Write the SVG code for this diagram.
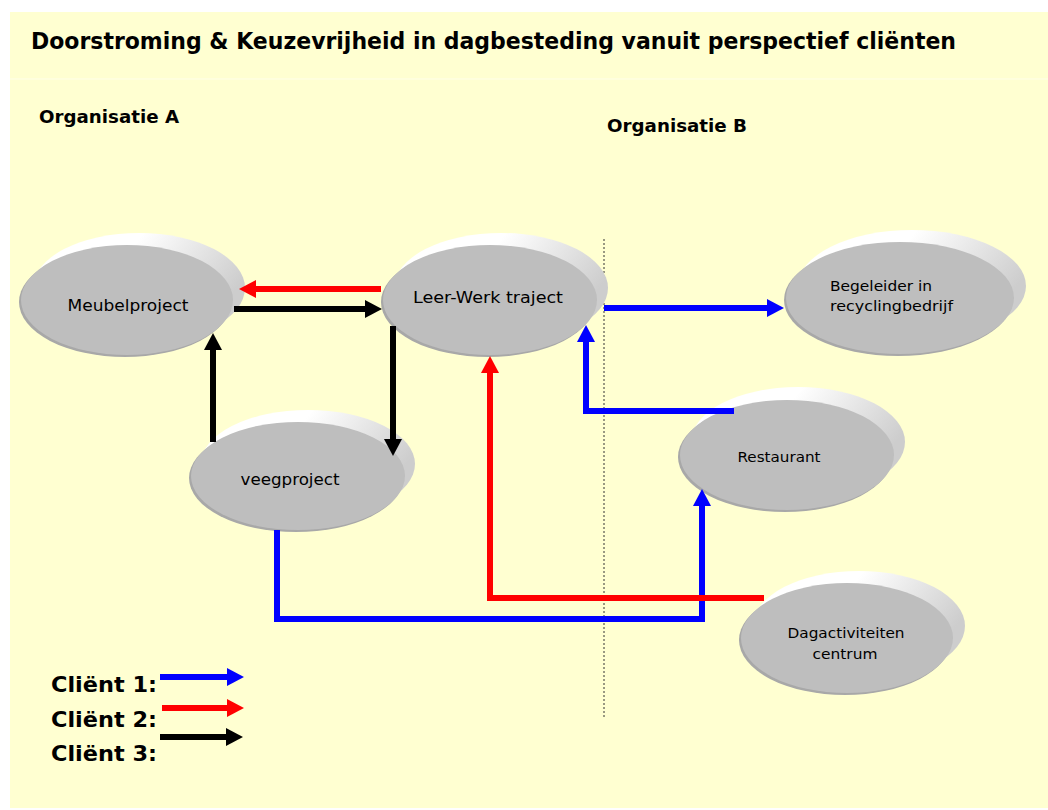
<svg xmlns="http://www.w3.org/2000/svg" width="1048" height="810" viewBox="0 0 1048 810">
<style>
.t{font-family:"DejaVu Sans","Liberation Sans",sans-serif;fill:#000}
.b{font-weight:bold}
.back{fill:url(#hl)}
.rim{fill:#a8a8a8}
.main{fill:#bebebe}
.c{fill:none;stroke-width:6;stroke-linejoin:miter;stroke-linecap:butt}
.blue{stroke:#0000ff}
.red{stroke:#ff0000}
.blk{stroke:#000000}
</style>
<defs>
<linearGradient id="hl" x1="0" y1="0" x2="1" y2="0.4">
<stop offset="0.45" stop-color="#ffffff"/>
<stop offset="1" stop-color="#cdcdcd"/>
</linearGradient>
<marker id="ab" markerUnits="userSpaceOnUse" markerWidth="18" markerHeight="18" refX="1" refY="9" orient="auto" overflow="visible"><path d="M0,0 L17,9 L0,18 z" fill="#0000ff"/></marker>
<marker id="ar" markerUnits="userSpaceOnUse" markerWidth="18" markerHeight="18" refX="1" refY="9" orient="auto" overflow="visible"><path d="M0,0 L17,9 L0,18 z" fill="#ff0000"/></marker>
<marker id="ak" markerUnits="userSpaceOnUse" markerWidth="18" markerHeight="18" refX="1" refY="9" orient="auto" overflow="visible"><path d="M0,0 L17,9 L0,18 z" fill="#000000"/></marker>
</defs>
<rect x="0" y="0" width="1048" height="810" fill="#ffffff"/>
<rect x="10" y="12" width="1038" height="796" fill="#ffffd1"/>
<line x1="10" y1="79" x2="1048" y2="79" stroke="#ffffea" stroke-width="1"/>
<text class="t b" x="31" y="49" font-size="23" textLength="925" lengthAdjust="spacingAndGlyphs">Doorstroming &amp; Keuzevrijheid in dagbesteding vanuit perspectief cliënten</text>
<text class="t b" x="39" y="123" font-size="18" textLength="140" lengthAdjust="spacingAndGlyphs">Organisatie A</text>
<text class="t b" x="607" y="132" font-size="18" textLength="140" lengthAdjust="spacingAndGlyphs">Organisatie B</text>
<line x1="604" y1="239" x2="604" y2="717" stroke="#333" stroke-width="1" stroke-dasharray="2,2"/>
<g id="meubelproject">
<ellipse class="back" cx="139" cy="288" rx="106" ry="55"/>
<ellipse class="rim" cx="125" cy="302" rx="106" ry="55"/>
<ellipse class="main" cx="127" cy="300" rx="106" ry="55"/>
<text class="t" x="128" y="311" font-size="16" text-anchor="middle" textLength="121" lengthAdjust="spacingAndGlyphs">Meubelproject</text>
</g>
<g id="leerwerk">
<ellipse class="back" cx="501" cy="288" rx="107" ry="55"/>
<ellipse class="rim" cx="488" cy="302" rx="107" ry="55"/>
<ellipse class="main" cx="490" cy="300" rx="107" ry="55"/>
<text class="t" x="488" y="303" font-size="16" text-anchor="middle" textLength="150" lengthAdjust="spacingAndGlyphs">Leer-Werk traject</text>
</g>
<g id="veegproject">
<ellipse class="back" cx="308" cy="464" rx="107" ry="54"/>
<ellipse class="rim" cx="296" cy="478" rx="107" ry="54"/>
<ellipse class="main" cx="298" cy="476" rx="107" ry="54"/>
<text class="t" x="290" y="485" font-size="16" text-anchor="middle" textLength="99" lengthAdjust="spacingAndGlyphs">veegproject</text>
</g>
<g id="begeleider">
<ellipse class="back" cx="912" cy="286" rx="114" ry="56"/>
<ellipse class="rim" cx="898" cy="300" rx="114" ry="56"/>
<ellipse class="main" cx="900" cy="298" rx="114" ry="56"/>
<text class="t" x="830" y="291" font-size="14" textLength="102" lengthAdjust="spacingAndGlyphs">Begeleider in</text>
<text class="t" x="830" y="311" font-size="14" textLength="123" lengthAdjust="spacingAndGlyphs">recyclingbedrijf</text>
</g>
<g id="restaurant">
<ellipse class="back" cx="798" cy="442" rx="107" ry="55"/>
<ellipse class="rim" cx="785" cy="457" rx="107" ry="55"/>
<ellipse class="main" cx="787" cy="455" rx="107" ry="55"/>
<text class="t" x="779" y="462" font-size="14" text-anchor="middle" textLength="83" lengthAdjust="spacingAndGlyphs">Restaurant</text>
</g>
<g id="dagactiviteiten">
<ellipse class="back" cx="859" cy="626" rx="106" ry="55"/>
<ellipse class="rim" cx="845" cy="640" rx="106" ry="55"/>
<ellipse class="main" cx="847" cy="638" rx="106" ry="55"/>
<text class="t" x="846" y="638" font-size="14" text-anchor="middle" textLength="117" lengthAdjust="spacingAndGlyphs">Dagactiviteiten</text>
<text class="t" x="845" y="659" font-size="14" text-anchor="middle" textLength="65" lengthAdjust="spacingAndGlyphs">centrum</text>
</g>
<g id="connectors">
<path class="c red" d="M381,289 H255" marker-end="url(#ar)"/>
<path class="c blk" d="M234,309 H366" marker-end="url(#ak)"/>
<path class="c blk" d="M213,442 V349" marker-end="url(#ak)"/>
<path class="c blk" d="M393,326 V440" marker-end="url(#ak)"/>
<path class="c blue" d="M604,308 H768" marker-end="url(#ab)"/>
<path class="c blue" d="M734,411 H586 V341" marker-end="url(#ab)"/>
<path class="c blue" d="M277,530 V619 H702 V505" marker-end="url(#ab)"/>
<path class="c red" d="M764,598 H490 V372" marker-end="url(#ar)"/>
</g>
<g id="legend">
<text class="t b" x="51" y="692" font-size="22" textLength="106" lengthAdjust="spacingAndGlyphs">Cliënt 1:</text>
<text class="t b" x="51" y="727" font-size="22" textLength="106" lengthAdjust="spacingAndGlyphs">Cliënt 2:</text>
<text class="t b" x="51" y="761" font-size="22" textLength="106" lengthAdjust="spacingAndGlyphs">Cliënt 3:</text>
<path class="c blue" d="M160,677 H228" marker-end="url(#ab)"/>
<path class="c red" d="M162,708 H228" marker-end="url(#ar)"/>
<path class="c blk" d="M160,737 H227" marker-end="url(#ak)"/>
</g>
</svg>
